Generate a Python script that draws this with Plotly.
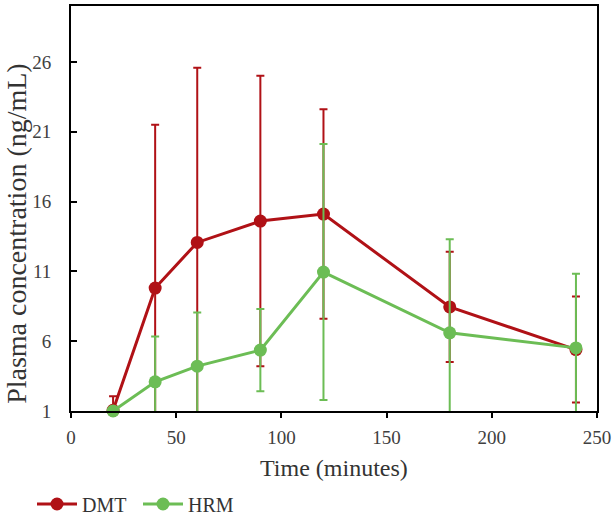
import plotly.graph_objects as go

time = [20, 40, 60, 90, 120, 180, 240]
dmt = [1.05, 9.8, 13.07, 14.6, 15.1, 8.45, 5.4]
dmt_err = [1.0, 11.7, 12.5, 10.4, 7.5, 3.95, 3.8]
hrm = [1.0, 3.09, 4.21, 5.36, 10.95, 6.6, 5.52]
hrm_err = [0.0, 3.24, 3.84, 2.95, 9.17, 6.7, 5.3]

x_ticks = [0, 50, 100, 150, 200, 250]
y_ticks = [1, 6, 11, 16, 21, 26]

RED = "#B01116"
GREEN = "#6CBD55"
FONT = "Liberation Serif"
TXT = "#333333"

fig = go.Figure()
fig.add_trace(go.Scatter(
    x=time, y=dmt, name="DMT", mode="lines+markers", legend="legend",
    line=dict(color=RED, width=3), marker=dict(color=RED, size=13),
    error_y=dict(type="data", array=dmt_err, color=RED, thickness=2, width=4),
    cliponaxis=False))
fig.add_trace(go.Scatter(
    x=time, y=hrm, name="HRM", mode="lines+markers", legend="legend2",
    line=dict(color=GREEN, width=3), marker=dict(color=GREEN, size=13),
    error_y=dict(type="data", array=hrm_err, color=GREEN, thickness=2, width=4),
    cliponaxis=False))

legend_common = dict(orientation="h", xref="container", yref="container",
                     y=1 - 504 / 517, xanchor="left", yanchor="middle",
                     bgcolor="rgba(0,0,0,0)",
                     font=dict(family=FONT, size=20, color=TXT), itemwidth=40)

fig.update_layout(
    width=616, height=517,
    margin=dict(l=71, r=19, t=4, b=106),
    paper_bgcolor="white", plot_bgcolor="white",
    font=dict(family=FONT, size=19, color="#404040"),
    showlegend=True,
    legend=dict(x=32 / 616, **legend_common),
    legend2=dict(x=138 / 616, **legend_common),
    xaxis=dict(range=[0, 250], tickvals=x_ticks,
               showline=True, linecolor="black", linewidth=2, mirror=True,
               ticks="outside", ticklen=5, tickwidth=1.5, tickcolor="black",
               ticklabelstandoff=3,
               showgrid=False, zeroline=False),
    yaxis=dict(range=[1, 30], tickvals=y_ticks,
               showline=True, linecolor="black", linewidth=2, mirror=True,
               ticks="inside", ticklen=6, tickwidth=1.5, tickcolor="black",
               ticklabelstandoff=14,
               showgrid=False, zeroline=False),
    annotations=[
        dict(text="Time (minutes)", xref="paper", yref="paper",
             x=0.5, y=-(468 - 411) / 407, xanchor="center", yanchor="middle",
             showarrow=False, font=dict(family=FONT, size=24, color=TXT)),
        dict(text="Plasma concentration (ng/mL)", xref="paper", yref="paper",
             x=-(71 - 17) / 526, y=(411 - 233) / 407, xanchor="center", yanchor="middle",
             textangle=-90, showarrow=False, font=dict(family=FONT, size=28, color=TXT)),
    ],
)

fig.write_html("out.html")
